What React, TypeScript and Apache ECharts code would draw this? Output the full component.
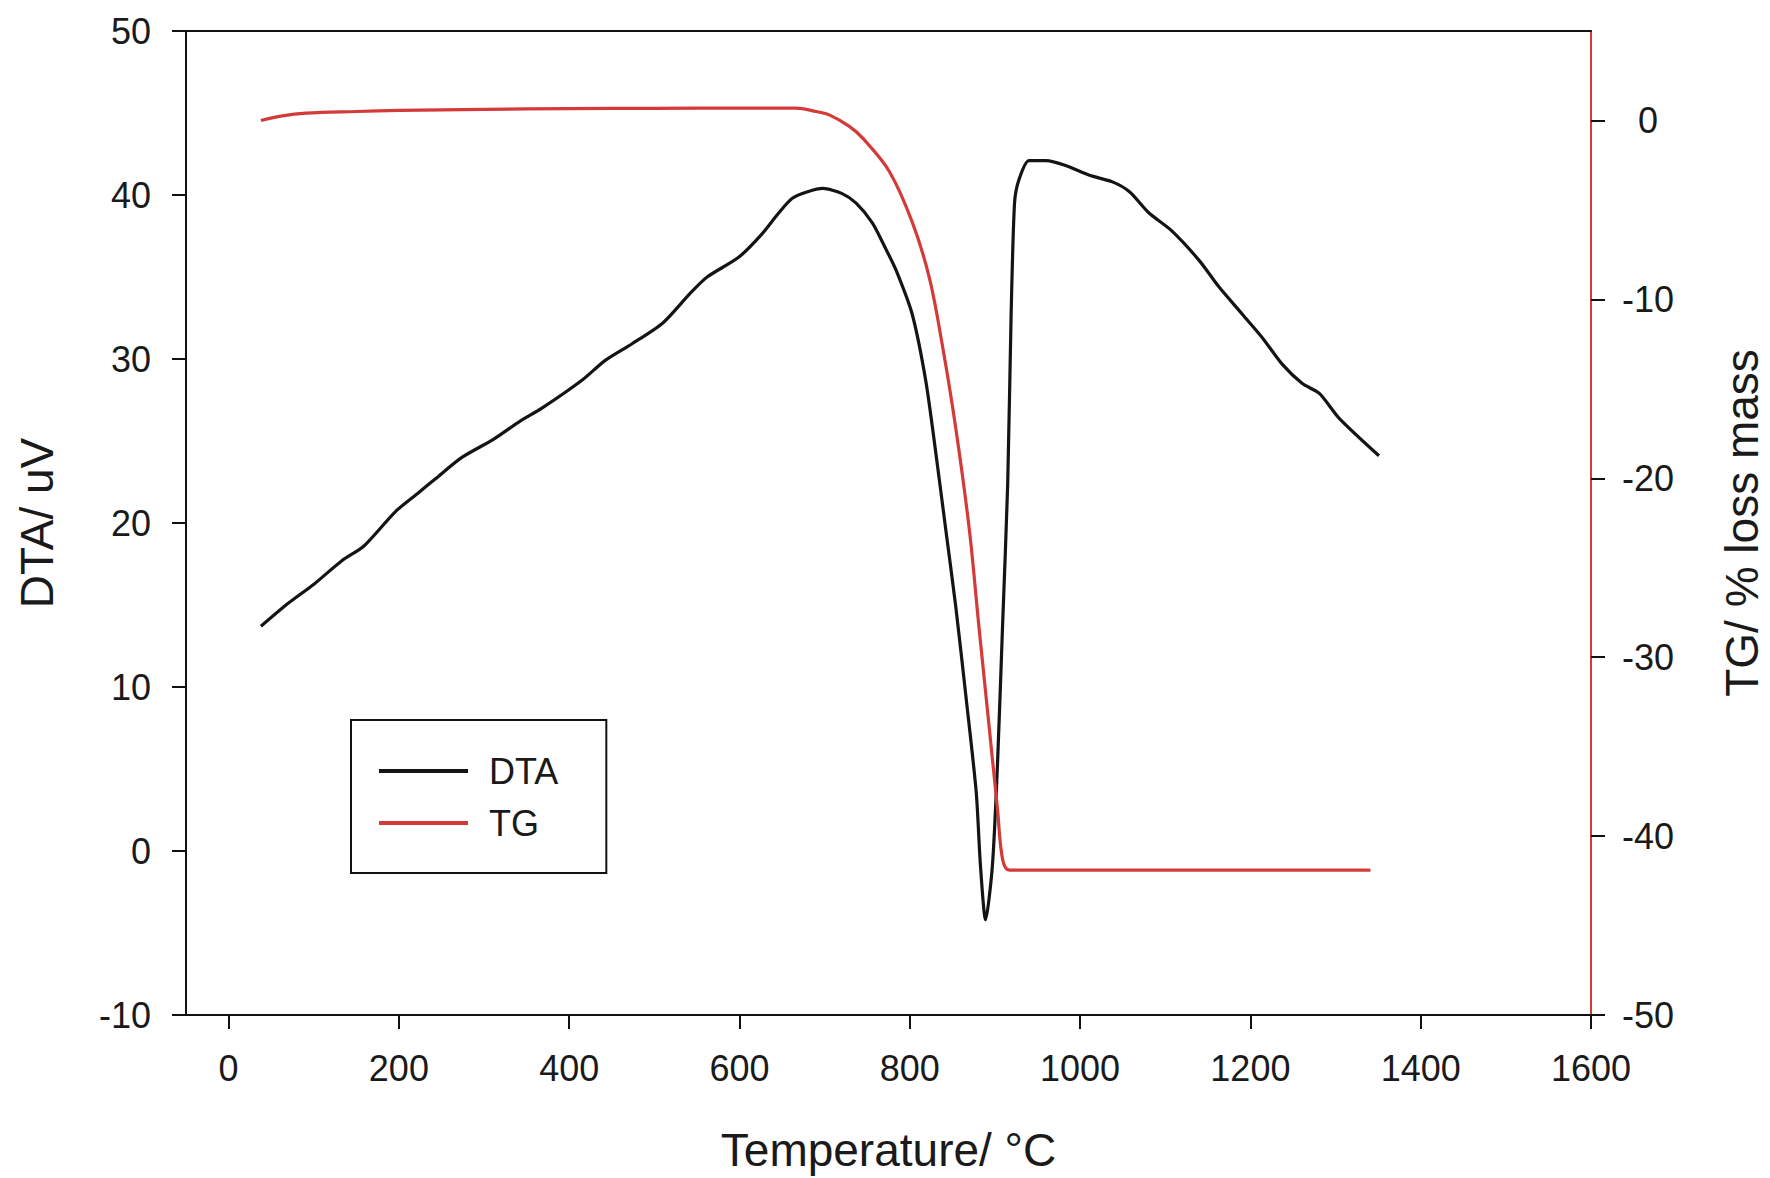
import React, { useEffect, useRef } from "react";
import * as echarts from "echarts";

const dtaTemps = [38, 70, 101, 133, 159, 196, 222, 243, 274, 311, 342, 368, 415, 442, 473, 510, 542, 562, 599, 626, 646, 662, 680, 698, 720, 737, 756, 771, 784, 803, 819, 831, 842, 854, 866, 878, 883, 889, 897, 903, 909, 915, 919, 923, 928, 940, 960, 983, 1011, 1038, 1058, 1081, 1108, 1140, 1163, 1191, 1214, 1237, 1261, 1281, 1304, 1351];
const dtaValues = [13.7, 15.1, 16.3, 17.7, 18.6, 20.7, 21.8, 22.7, 24.0, 25.1, 26.2, 27.0, 28.7, 29.9, 30.9, 32.2, 34.0, 35.0, 36.2, 37.6, 38.9, 39.8, 40.2, 40.4, 40.1, 39.5, 38.3, 36.8, 35.4, 32.7, 28.6, 24.1, 19.7, 14.9, 9.4, 3.6, -0.9, -4.2, -0.9, 5.3, 13.8, 22.4, 32.7, 39.5, 40.9, 42.1, 42.1, 41.8, 41.2, 40.8, 40.2, 38.9, 37.8, 36.0, 34.4, 32.7, 31.3, 29.7, 28.5, 27.9, 26.4, 24.1];

const tgTemps = [38, 63, 91, 150, 200, 300, 400, 500, 600, 666, 690, 706, 729, 745, 776, 803, 823, 838, 854, 870, 881, 893, 903, 909, 917, 1341];
const tgValues = [0.0, 0.26, 0.41, 0.5, 0.56, 0.62, 0.66, 0.68, 0.69, 0.69, 0.5, 0.3, -0.33, -1.0, -2.85, -5.7, -8.8, -12.5, -17.2, -22.9, -28.2, -33.8, -38.5, -41.3, -41.9, -41.9];

const xTicks = [0, 200, 400, 600, 800, 1000, 1200, 1400, 1600];
const rightTicks = [-50, -40, -30, -20, -10, 0];

const FONT = "'Liberation Sans', Arial, sans-serif";
const TXT = "#1a1a1a";
const RED = "#d23b38";

export default function App() {
  const ref = useRef<HTMLDivElement>(null);
  useEffect(() => {
    if (!ref.current) return;
    const chart = echarts.init(ref.current, undefined, { renderer: "svg" });
    const dta = dtaTemps.map((t, i) => [t, dtaValues[i]]);
    const tg = tgTemps.map((t, i) => [t, tgValues[i]]);
    const plain = (v: number) => String(v);
    chart.setOption({
      animation: false,
      backgroundColor: "#ffffff",
      grid: { left: 186, right: 179, top: 31, bottom: 163, containLabel: false, outerBoundsMode: "none" },
      legend: {
        left: 351,
        top: 720,
        orient: "vertical",
        borderColor: "#111",
        borderWidth: 2,
        padding: [33, 48, 32, 28],
        itemWidth: 89,
        itemHeight: 4,
        itemGap: 16,
        icon: "rect",
        textStyle: { fontFamily: FONT, fontSize: 36, color: TXT, lineHeight: 36, padding: [0, 0, 0, 16] },
        data: ["DTA", "TG"],
      },
      xAxis: [
        {
          type: "value",
          position: "bottom",
          min: -50,
          max: 1600,
          name: "Temperature/ °C",
          nameLocation: "middle",
          nameGap: 112,
          nameTextStyle: { fontFamily: FONT, fontSize: 46, color: TXT },
          axisLine: { show: true, onZero: false, lineStyle: { color: "#111", width: 2 } },
          axisTick: { show: true, inside: false, length: 14, customValues: xTicks, lineStyle: { color: "#111", width: 2 } },
          axisLabel: { customValues: xTicks, formatter: plain, margin: 35, fontFamily: FONT, fontSize: 36, color: TXT },
          splitLine: { show: false },
        },
        {
          type: "value",
          position: "top",
          min: -50,
          max: 1600,
          axisLine: { show: true, onZero: false, lineStyle: { color: "#111", width: 2 } },
          axisTick: { show: false },
          axisLabel: { show: false },
          splitLine: { show: false },
        },
      ],
      yAxis: [
        {
          type: "value",
          position: "left",
          min: -10,
          max: 50,
          interval: 10,
          name: "DTA/ uV",
          nameLocation: "middle",
          nameRotate: 90,
          nameGap: 126,
          nameTextStyle: { fontFamily: FONT, fontSize: 46, color: TXT },
          axisLine: { show: true, onZero: false, lineStyle: { color: "#111", width: 2 } },
          axisTick: { show: true, length: 14, lineStyle: { color: "#111", width: 2 } },
          axisLabel: { formatter: plain, margin: 35, fontFamily: FONT, fontSize: 36, color: TXT },
          splitLine: { show: false },
        },
        {
          type: "value",
          position: "right",
          min: -50,
          max: 5,
          name: "TG/ % loss mass",
          nameLocation: "middle",
          nameRotate: 90,
          nameGap: 128,
          nameTextStyle: { fontFamily: FONT, fontSize: 46, color: TXT },
          axisLine: { show: true, onZero: false, lineStyle: { color: RED, width: 2 } },
          axisTick: { show: true, length: 14, customValues: rightTicks, lineStyle: { color: "#111", width: 2 } },
          axisLabel: { customValues: rightTicks, formatter: plain, margin: 57, align: "center", fontFamily: FONT, fontSize: 36, color: TXT },
          splitLine: { show: false },
        },
      ],
      series: [
        {
          name: "DTA",
          type: "line",
          xAxisIndex: 0,
          yAxisIndex: 0,
          data: dta,
          showSymbol: false,
          smooth: 0.25,
          lineStyle: { color: "#141414", width: 3.2 },
          itemStyle: { color: "#141414" },
        },
        {
          name: "TG",
          type: "line",
          xAxisIndex: 0,
          yAxisIndex: 1,
          data: tg,
          showSymbol: false,
          smooth: 0.35,
          lineStyle: { color: RED, width: 3.2 },
          itemStyle: { color: RED },
        },
      ],
    });
    return () => chart.dispose();
  }, []);
  return <div ref={ref} style={{ position: "absolute", left: 0, top: 0, width: 1770, height: 1178 }} />;
}
